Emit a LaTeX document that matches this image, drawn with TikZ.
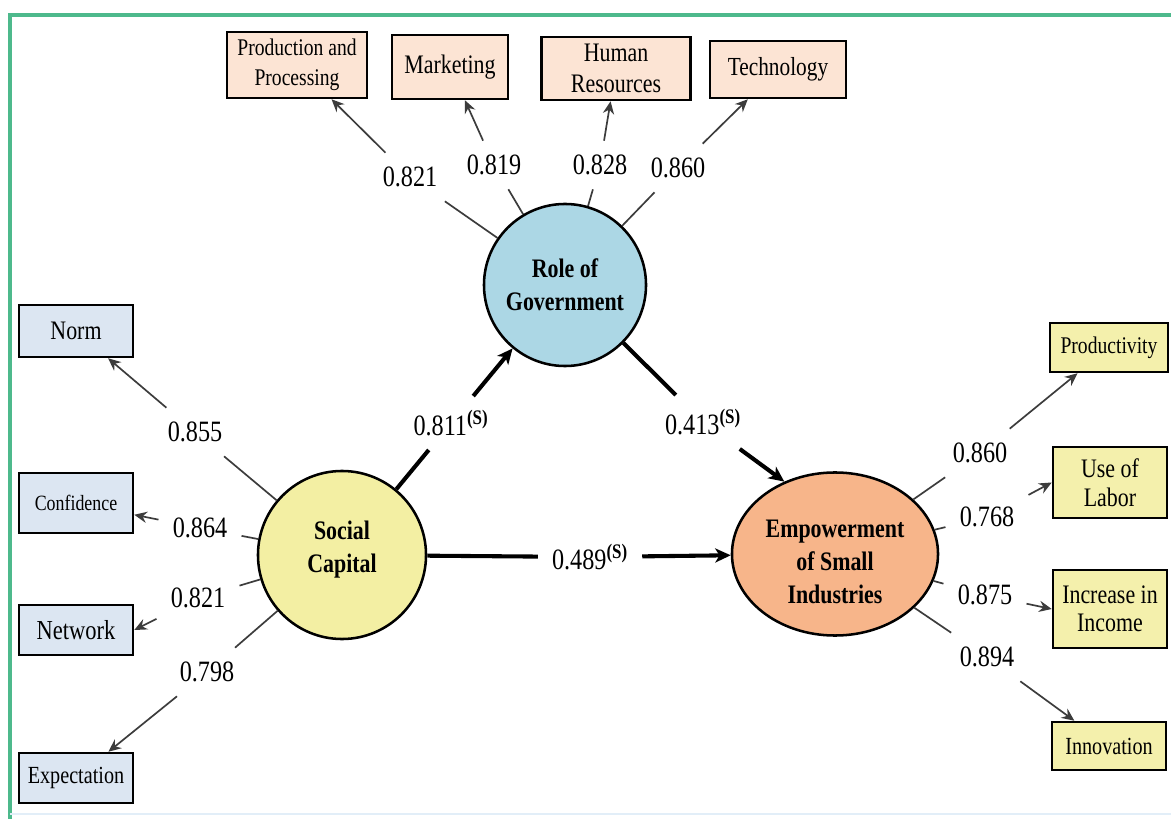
\documentclass[tikz,border=0pt]{standalone}
\usepackage{fontspec}
\setmainfont{Liberation Serif}[FakeStretch=0.82]
\definecolor{sfgreen}{RGB}{77,185,140}
\definecolor{sfpale}{RGB}{226,238,248}
\definecolor{bxpeach}{RGB}{252,228,212}
\definecolor{bxblue}{RGB}{220,230,242}
\definecolor{bxyellow}{RGB}{244,240,172}
\definecolor{cblue}{RGB}{172,215,229}
\definecolor{cyellow}{RGB}{243,239,163}
\definecolor{corange}{RGB}{247,181,138}
\definecolor{lngray}{RGB}{60,60,60}
\usetikzlibrary{arrows.meta,shapes.geometric}

\begin{document}
\begin{tikzpicture}[x=0.025cm, y=-0.025cm,
  mbox/.style={rectangle, draw=black, line width=1.8pt, inner sep=0pt, align=center},
  lat/.style={draw=black, line width=1.8pt, inner sep=0pt, align=center,
              font=\fontsize{19}{23.5}\selectfont\bfseries},
  ld/.style={inner sep=0.35cm, font=\fontsize{21}{24}\selectfont},
  ln/.style={draw=lngray, line width=1.2pt},
  la/.style={ln, -{Stealth[length=9pt, width=8pt, inset=3pt]}},
  pth/.style={line width=2.9pt},
  parr/.style={pth, -{Stealth[length=11pt, width=10pt, inset=3pt]}}
]
\useasboundingbox (0,0) rectangle (1171,819);
\fill[white] (0,0) rectangle (1171,819);

% Frame
\draw[sfgreen, line width=2.2pt] (1171,15) -- (10,15) -- (10,819);
\draw[sfpale, line width=1.5pt] (10,814) -- (1171,814);

% Latent variables
\node[lat, circle,  fill=cblue,   minimum size=4.05cm]                          (rg)  at (565,285) {Role of\\Government};
\node[lat, circle,  fill=cyellow, minimum size=4.2cm]                           (sc)  at (342,555) {Social\\Capital\rule[-12pt]{0pt}{1pt}};
\node[lat, ellipse, fill=corange, minimum width=5.15cm, minimum height=4.075cm] (emp) at (835,554) {\rule{0pt}{24pt}Empowerment\\of Small\\Industries};

% Indicators: Role of Government
\node[mbox, fill=bxpeach, minimum width=3.5cm,   minimum height=1.65cm,  font=\fontsize{17}{21}\selectfont]   (pp)   at (297,65)   {Production and\\Processing};
\node[mbox, fill=bxpeach, minimum width=2.9cm,   minimum height=1.6cm,   font=\fontsize{19}{22}\selectfont]   (mkt)  at (450,67)   {Marketing};
\node[mbox, fill=bxpeach, minimum width=3.725cm, minimum height=1.575cm, font=\fontsize{19}{22.5}\selectfont] (hr)   at (616,68.5) {Human\\Resources};
\node[mbox, fill=bxpeach, minimum width=3.4cm,   minimum height=1.425cm, font=\fontsize{18.5}{22}\selectfont] (tech) at (778,69.5) {Technology};

% Indicators: Social Capital
\node[mbox, fill=bxblue, minimum width=2.85cm, minimum height=1.3cm,  font=\fontsize{19}{22}\selectfont]   (norm) at (76,331) {Norm};
\node[mbox, fill=bxblue, minimum width=2.85cm, minimum height=1.5cm,  font=\fontsize{15.5}{19}\selectfont] (conf) at (76,503) {Confidence};
\node[mbox, fill=bxblue, minimum width=2.85cm, minimum height=1.25cm, font=\fontsize{19.5}{22}\selectfont] (net)  at (76,630) {Network};
\node[mbox, fill=bxblue, minimum width=2.85cm, minimum height=1.25cm, font=\fontsize{17.5}{21}\selectfont] (exp)  at (76,778) {Expectation};

% Indicators: Empowerment of Small Industries
\node[mbox, fill=bxyellow, minimum width=2.95cm, minimum height=1.225cm, font=\fontsize{17}{21}\selectfont]   (prod) at (1109,347.5) {Productivity};
\node[mbox, fill=bxyellow, minimum width=2.85cm, minimum height=1.775cm, font=\fontsize{19}{21}\selectfont]   (lab)  at (1110,482.5) {Use of\\Labor};
\node[mbox, fill=bxyellow, minimum width=2.85cm, minimum height=1.95cm,  font=\fontsize{19}{20}\selectfont]   (inc)  at (1110,609)   {Increase in\\Income};
\node[mbox, fill=bxyellow, minimum width=2.85cm, minimum height=1.2cm,   font=\fontsize{17.5}{21}\selectfont] (inn)  at (1109,746)   {Innovation};

% Loadings
\node[ld] (lpp)   at (410,177) {0.821};
\node[ld] (lmkt)  at (494,165) {0.819};
\node[ld] (lhr)   at (600,165) {0.828};
\node[ld] (ltech) at (678,168) {0.860};
\node[ld] (lnorm) at (195,432) {0.855};
\node[ld] (lconf) at (200,528) {0.864};
\node[ld] (lnet)  at (198,598) {0.821};
\node[ld] (lexp)  at (207,672) {0.798};
\node[ld] (lprod) at (980,453) {0.860};
\node[ld] (llab)  at (987,517) {0.768};
\node[ld] (linc)  at (985,595) {0.875};
\node[ld] (linn)  at (987,657) {0.894};

\draw[ln] (rg)  -- (lpp);   \draw[la] (lpp)   -- (pp);
\draw[ln] (rg)  -- (lmkt);  \draw[la] (lmkt)  -- (mkt);
\draw[ln] (rg)  -- (lhr);   \draw[la] (lhr)   -- (hr);
\draw[ln] (rg)  -- (ltech); \draw[la] (ltech) -- (tech);
\draw[ln] (sc)  -- (lnorm); \draw[la] (lnorm) -- (norm);
\draw[ln] (sc)  -- (lconf); \draw[la] (lconf) -- (conf);
\draw[ln] (sc)  -- (lnet);  \draw[la] (lnet)  -- (net.east);
\draw[ln] (sc)  -- (lexp);  \draw[la] (lexp)  -- (exp);
\draw[ln] (emp) -- (lprod); \draw[la] (lprod) -- (prod);
\draw[ln] (emp) -- (llab);  \draw[la] (llab)  -- (lab.west);
\draw[ln] (emp) -- (linc);  \draw[la] (linc)  -- (inc.west);
\draw[ln] (emp) -- (linn);  \draw[la] (linn)  -- (inn);

% Structural paths
\node[ld] (psr) at (451,423) {0.811\textsuperscript{\bfseries(S)}};
\node[ld] (pre) at (703,422) {0.413\textsuperscript{\bfseries(S)}};
\node[ld] (pse) at (590,557) {0.489\textsuperscript{\bfseries(S)}};

\draw[pth]  (sc)  -- (psr);
\draw[parr] (psr) -- (rg);
\draw[pth]  (rg)  -- (pre);
\draw[parr] (pre) -- (emp.125);
\draw[pth]  (sc)  -- (pse);
\draw[parr] (pse) -- (emp);
\end{tikzpicture}
\end{document}
